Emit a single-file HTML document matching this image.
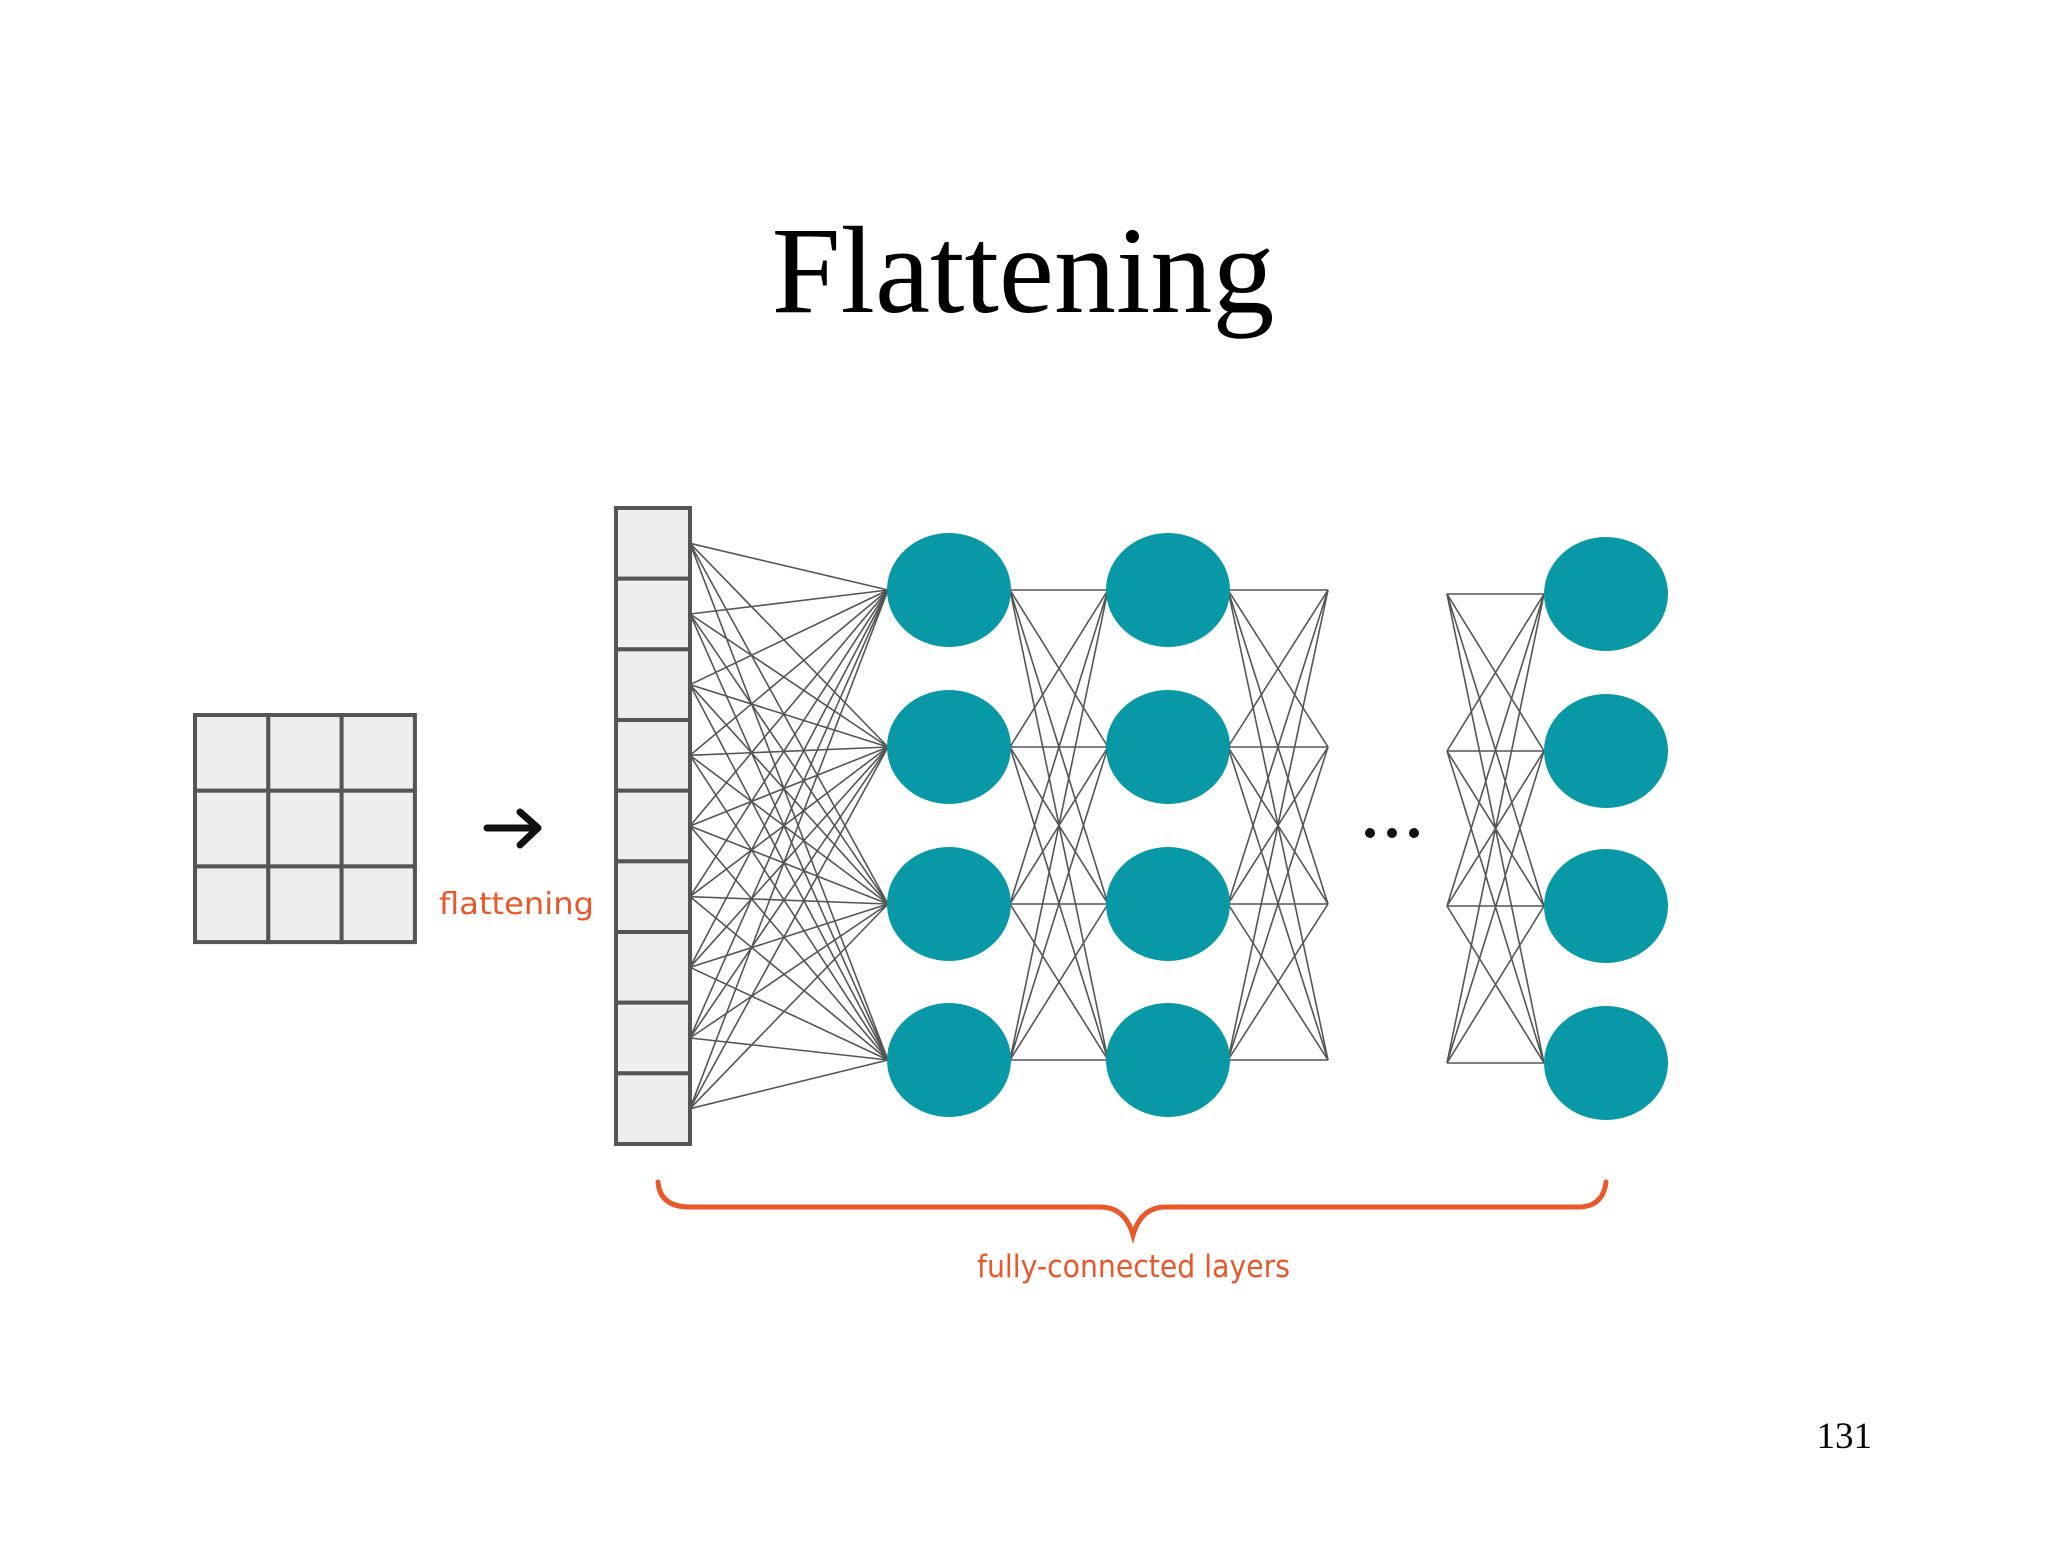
<!DOCTYPE html>
<html><head><meta charset="utf-8"><style>
html,body{margin:0;padding:0;background:#fff;}
body{width:2048px;height:1536px;overflow:hidden;}
</style></head><body>
<svg id="s" width="2048" height="1536" viewBox="0 0 2048 1536" xmlns="http://www.w3.org/2000/svg">
<rect width="2048" height="1536" fill="#fff"/>
<text x="1023" y="312" font-family="Liberation Serif, serif" font-size="124" text-anchor="middle" fill="#000">Flattening</text>
<text x="1872" y="1448" font-family="Liberation Serif, serif" font-size="37" text-anchor="end" fill="#000">131</text>
<g id="lines" stroke="#555" stroke-width="1.6" fill="none"></g>
<g id="shapes"></g>
<!-- arrow -->
<g stroke="#111" stroke-width="7" fill="none" stroke-linecap="round" stroke-linejoin="round">
<line x1="487" y1="828" x2="537" y2="828"/>
<polyline points="520,812 538,828 520,845"/>
</g>
<text x="439" y="914" font-family="DejaVu Sans, sans-serif" font-size="30" fill="#e8582a" textLength="155" lengthAdjust="spacingAndGlyphs">flattening</text>
<!-- brace -->
<path d="M658,1182 Q660,1207 690,1207 L1100,1207 Q1125,1207 1133,1235 Q1141,1207 1166,1207 L1578,1207 Q1603,1207 1606,1182" stroke="#e8582a" stroke-width="5" fill="none" stroke-linecap="round"/>
<text x="977" y="1277" font-family="DejaVu Sans, sans-serif" font-size="31" fill="#e8582a" textLength="313" lengthAdjust="spacingAndGlyphs">fully-connected layers</text>
<g fill="#111"><circle cx="1370" cy="833" r="5"/><circle cx="1392" cy="833" r="5"/><circle cx="1414" cy="833" r="5"/></g>
</svg>
<script>
var NS="http://www.w3.org/2000/svg";
var L=document.getElementById('lines'),S=document.getElementById('shapes');
function ln(a,b,c,d){var e=document.createElementNS(NS,'line');e.setAttribute('x1',a);e.setAttribute('y1',b);e.setAttribute('x2',c);e.setAttribute('y2',d);L.appendChild(e);}
function el(t,o){var e=document.createElementNS(NS,t);for(var k in o)e.setAttribute(k,o[k]);S.appendChild(e);}
// grid
for(var r=0;r<3;r++)for(var c=0;c<3;c++)el('rect',{x:195+c*73.3,y:715+r*75.7,width:73.3,height:75.7,fill:'#eeeeee',stroke:'#555',"stroke-width":4});
// column
var ch=(1144-508)/9;
for(var i=0;i<9;i++)el('rect',{x:616,y:508+i*ch,width:74,height:ch,fill:'#eeeeee',stroke:'#555',"stroke-width":4});
var y1=[590,747,904,1060],y4=[594,751,906,1063];
for(var i=0;i<9;i++)for(var j=0;j<4;j++)ln(690,508+ch*(i+0.5),888,y1[j]);
for(var i=0;i<4;i++)for(var j=0;j<4;j++){ln(1010,y1[i],1108,y1[j]);ln(1228,y1[i],1328,y1[j]);ln(1447,y4[i],1544,y4[j]);}
[949,1168].forEach(function(x){y1.forEach(function(y){el('ellipse',{cx:x,cy:y,rx:62,ry:57,fill:'#0898a6'});});});
y4.forEach(function(y){el('ellipse',{cx:1606,cy:y,rx:62,ry:57,fill:'#0898a6'});});
</script>
</body></html>
